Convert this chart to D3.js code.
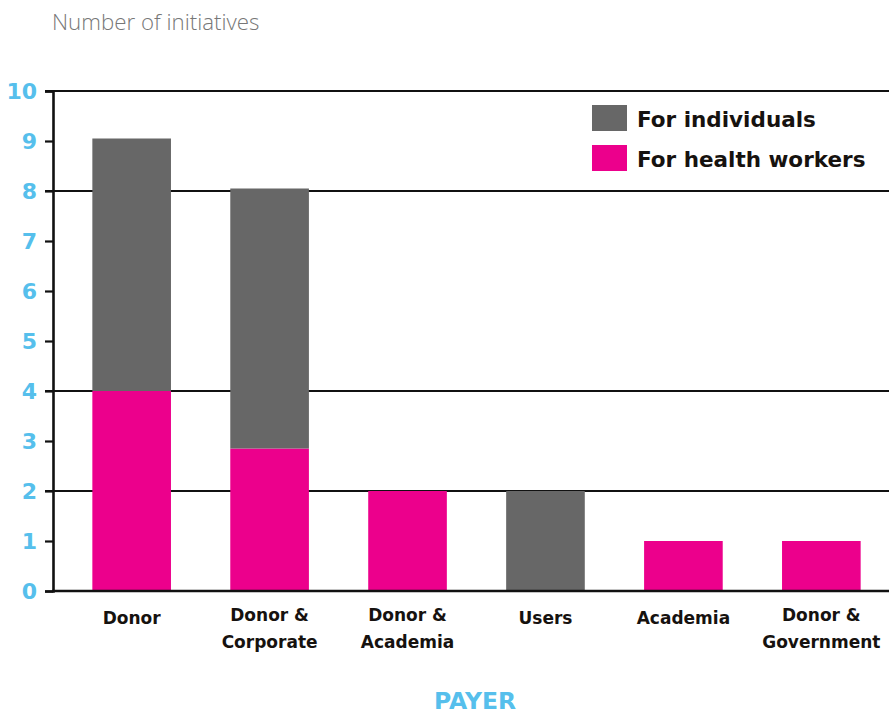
<!DOCTYPE html>
<html>
<head>
<meta charset="utf-8">
<script src="https://cdn.jsdelivr.net/npm/d3@7"></script>
<style>
  html, body { margin: 0; padding: 0; background: #fff; }
  svg { display: block; }
</style>
</head>
<body>
<svg id="chart" width="889" height="716"></svg>
<script>
const categories = [["Donor"], ["Donor &", "Corporate"], ["Donor &", "Academia"], ["Users"], ["Academia"], ["Donor &", "Government"]];
const categoryKeys = ["Donor", "Donor & Corporate", "Donor & Academia", "Users", "Academia", "Donor & Government"];
const healthWorkers = [4, 2.85, 2, 0, 1, 1];
const individuals = [5.05, 5.2, 0, 2, 0, 0];
const seriesNames = ["For individuals", "For health workers"];
const yTicks = [0, 1, 2, 3, 4, 5, 6, 7, 8, 9, 10];
const gridValues = [2, 4, 8, 10];

const BLUE = "#56bfec", PINK = "#ec008c", GREY = "#676767", INK = "#16120f";
const svg = d3.select("#chart");

const x = d3.scaleBand().domain(categoryKeys).range([62, 891]).paddingInner(0.43).paddingOuter(0.22);
const y = d3.scaleLinear().domain([0, 10]).range([591, 91]);

// title
svg.append("text").attr("x", 52).attr("y", 30)
  .attr("font-family", "'Open Sans', sans-serif").attr("font-weight", 300)
  .attr("font-size", 22.3).attr("fill", "#777").text("Number of initiatives");

// gridlines
svg.append("g").selectAll("line").data(gridValues).join("line")
  .attr("x1", 45).attr("x2", 889)
  .attr("y1", d => y(d)).attr("y2", d => y(d))
  .attr("stroke", "#111").attr("stroke-width", 2.2);

// stacked data
const rows = categoryKeys.map((k, i) => ({ key: k, health: healthWorkers[i], indiv: individuals[i] }));
const stack = d3.stack().keys(["health", "indiv"])(rows);
const colors = { health: PINK, indiv: GREY };

svg.append("g").selectAll("g").data(stack).join("g")
  .attr("fill", s => colors[s.key])
  .selectAll("rect").data(s => s.filter(d => d[1] - d[0] > 0)).join("rect")
  .attr("x", d => x(d.data.key))
  .attr("width", x.bandwidth())
  .attr("y", d => y(d[1]))
  .attr("height", d => y(d[0]) - y(d[1]));

// y axis
const yAxis = d3.axisLeft(y).tickValues(yTicks).tickSize(8).tickPadding(8).tickFormat(d3.format("d"));
const yg = svg.append("g").attr("transform", "translate(53,0)").call(yAxis);
yg.select(".domain").attr("stroke", "#111").attr("stroke-width", 2.6);
yg.selectAll(".tick line").attr("stroke", "#111").attr("stroke-width", 2.2);
yg.selectAll(".tick text").attr("fill", BLUE).attr("font-family", "'DejaVu Sans', sans-serif")
  .attr("font-weight", "bold").attr("font-size", 22).attr("dy", "0.36em");

// baseline
svg.append("line").attr("x1", 52).attr("x2", 889).attr("y1", y(0)).attr("y2", y(0))
  .attr("stroke", "#111").attr("stroke-width", 2.6);

// x labels
const xl = svg.append("g").selectAll("text").data(categoryKeys).join("text")
  .attr("x", d => x(d) + x.bandwidth() / 2)
  .attr("y", (d, i) => categories[i].length === 1 ? 624 : 621)
  .attr("text-anchor", "middle")
  .attr("font-family", "'DejaVu Sans', sans-serif").attr("font-weight", "bold")
  .attr("font-size", 17).attr("fill", INK);
xl.selectAll("tspan").data((d, i) => categories[i]).join("tspan")
  .attr("x", function() { return this.parentNode.getAttribute("x"); })
  .attr("dy", (d, j) => j === 0 ? 0 : 27)
  .text(d => d);

// x title
svg.append("text").attr("x", 475).attr("y", 709).attr("text-anchor", "middle")
  .attr("font-family", "'DejaVu Sans', sans-serif").attr("font-weight", "bold")
  .attr("font-size", 23.5).attr("fill", BLUE).text("PAYER");

// legend
const legend = svg.append("g").attr("transform", "translate(592,105)");
const lg = legend.selectAll("g").data(seriesNames).join("g")
  .attr("transform", (d, i) => `translate(0,${i * 40})`);
lg.append("rect").attr("width", 35).attr("height", 26).attr("fill", (d, i) => i === 0 ? GREY : PINK);
lg.append("text").attr("x", 45).attr("y", 22)
  .attr("font-family", "'DejaVu Sans', sans-serif").attr("font-weight", "bold")
  .attr("font-size", 21.5).attr("fill", INK).text(d => d);
</script>
</body>
</html>
